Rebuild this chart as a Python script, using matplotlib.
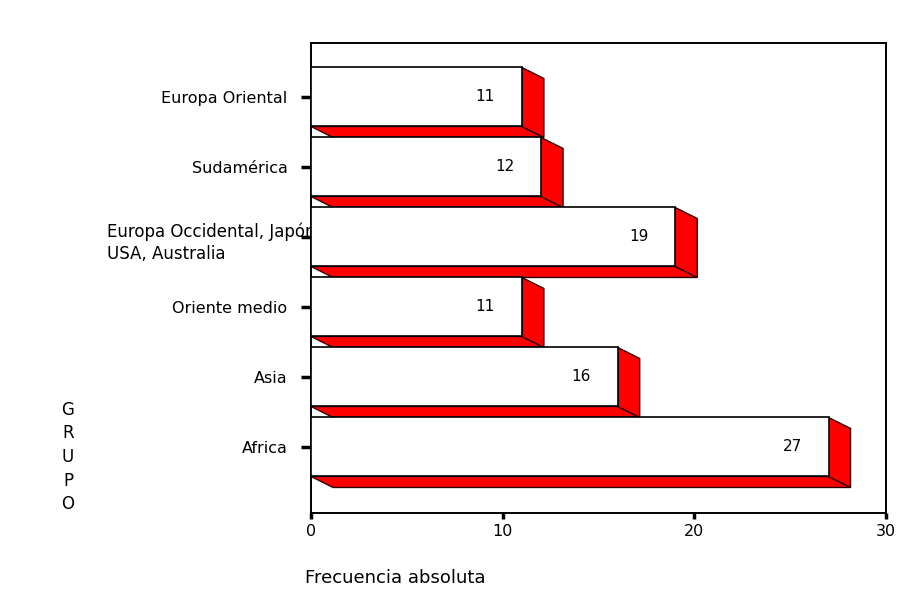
import matplotlib.pyplot as plt
from matplotlib.patches import Polygon, Rectangle

# frequency per group, listed bottom to top
grupos = ["Africa", "Asia", "Oriente medio",
          "Europa Occidental, Japón\nUSA, Australia", "Sudamérica", "Europa Oriental"]
frecuencias = [27, 16, 11, 19, 12, 11]

plt.rcParams['font.family'] = ['DejaVu Sans']

fig = plt.figure(figsize=(9.12, 5.99), dpi=100)
ax = fig.add_axes([0.341, 0.1436, 0.6305, 0.7846])

alto = 0.843      # front face height
dx, dy = 1.15, 0.157   # depth of the 3d shading

for i, v in enumerate(frecuencias):
    yt = i + alto / 2
    yb = i - alto / 2
    # bottom face
    ax.add_patch(Polygon([(0, yb), (v, yb), (v + dx, yb - dy), (dx, yb - dy)],
                         closed=True, facecolor="#ff0000", edgecolor="#300000",
                         lw=1.0, zorder=2))
    # side face
    ax.add_patch(Polygon([(v, yt), (v + dx, yt - dy), (v + dx, yb - dy), (v, yb)],
                         closed=True, facecolor="#ff0000", edgecolor="#300000",
                         lw=1.0, zorder=2))
    # front face
    ax.add_patch(Rectangle((0, yb), v, alto, facecolor="white",
                           edgecolor="black", lw=1.2, zorder=3))
    ax.text(v - 1.9, i, str(v), ha="center", va="center", fontsize=11, zorder=4)

ax.set_xlim(0, 30)
ax.set_ylim(-0.943, 5.771)
ax.set_xticks([0, 10, 20, 30])
ax.set_xticklabels(["0", "10", "20", "30"], fontsize=11.5)
ax.set_yticks(range(len(grupos)))
ax.set_yticklabels([g if "\n" not in g else "" for g in grupos], fontsize=11.5)
ax.tick_params(axis="y", length=7, width=2.5, pad=10)
ax.tick_params(axis="x", length=4, width=2.5, pad=4)
for s in ax.spines.values():
    s.set_linewidth(1.4)

# the long label runs under the plot area and is hidden by it
fig.text(107 / 912, 1 - 243 / 599, grupos[3], ha="left", va="center",
         fontsize=12, linespacing=1.3, zorder=-1)

fig.text(68 / 912, 1 - 457 / 599, "G\nR\nU\nP\nO", ha="center", va="center",
         fontsize=12, linespacing=1.4)
fig.text(305 / 912, 1 - 578 / 599, "Frecuencia absoluta", ha="left", va="center",
         fontsize=13)

plt.savefig("out.png", dpi=100)
